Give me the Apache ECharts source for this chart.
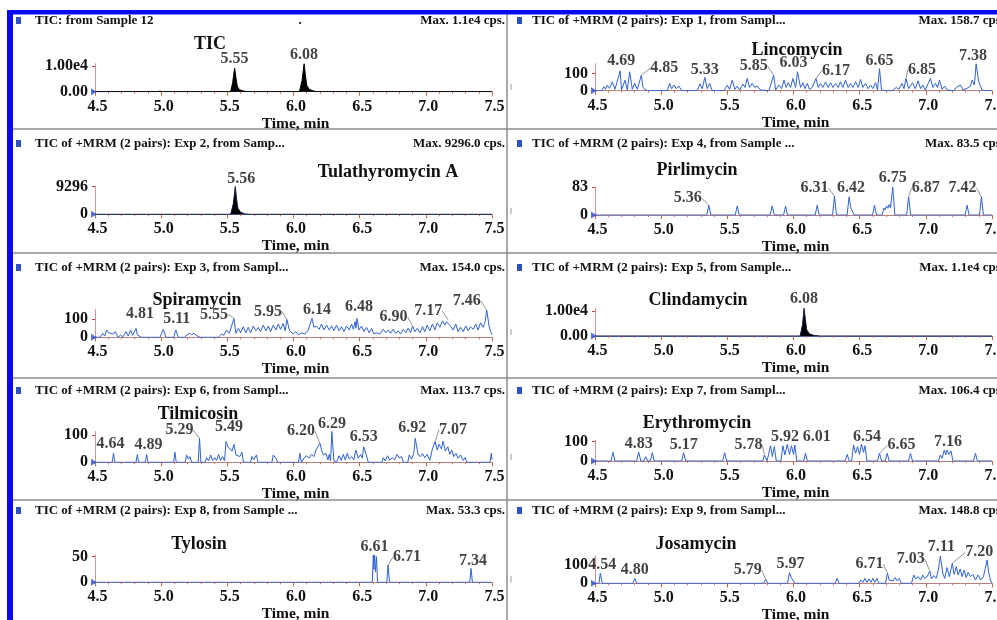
<!DOCTYPE html>
<html><head><meta charset="utf-8">
<script src="https://cdn.jsdelivr.net/npm/echarts@6/dist/echarts.min.js"></script>
<style>html,body{margin:0;padding:0;background:#fff}#c{width:997px;height:620px}</style>
</head><body><div id="c"></div>
<script>
const FONT = '"Liberation Serif","Times New Roman",serif';

// ---------- DATA: chromatogram traces [time(min), intensity(cps)] ----------
const ticTrace = [[4.5,0],[4.97,0],[4.99,200],[5.01,0],[5.525,0],[5.54,3500],[5.555,9300],[5.565,5500],[5.575,2200],[5.59,800],[5.62,300],[5.65,0],[6.045,0],[6.065,4500],[6.08,11000],[6.09,6500],[6.10,2500],[6.12,900],[6.15,300],[6.18,0],[7.5,0]];
const tulaTrace = [[4.5,0],[4.98,0],[4.995,150],[5.01,0],[5.525,0],[5.545,3500],[5.56,9296],[5.57,5000],[5.58,2000],[5.60,700],[5.63,200],[5.66,0],[7.5,0]];
const spiraTrace = [[4.5,0],[4.538,0],[4.558,22],[4.573,7],[4.588,40],[4.603,25],[4.618,36],[4.638,18],[4.654,31],[4.674,0],[4.694,13],[4.709,0],[4.734,31],[4.752,7],[4.769,40],[4.784,11],[4.81,49],[4.82,13],[4.835,22],[4.852,0],[4.991,0],[5.016,44],[5.036,0],[5.095,0],[5.11,40],[5.13,0],[5.175,0],[5.19,11],[5.212,22],[5.23,15],[5.248,22],[5.273,7],[5.293,0],[5.432,0],[5.457,18],[5.474,11],[5.494,40],[5.515,22],[5.55,104],[5.565,22],[5.583,49],[5.60,25],[5.62,58],[5.64,25],[5.658,55],[5.676,25],[5.696,62],[5.716,36],[5.734,55],[5.751,31],[5.771,67],[5.792,36],[5.81,62],[5.827,31],[5.847,67],[5.867,40],[5.885,73],[5.902,44],[5.922,76],[5.937,36],[5.95,98],[5.97,36],[5.998,18],[6.018,31],[6.038,13],[6.061,25],[6.086,18],[6.111,40],[6.14,104],[6.154,55],[6.174,62],[6.194,44],[6.212,73],[6.23,40],[6.25,67],[6.27,40],[6.288,62],[6.305,36],[6.325,67],[6.345,36],[6.363,58],[6.381,31],[6.401,62],[6.421,40],[6.439,73],[6.452,44],[6.466,86],[6.472,50],[6.48,104],[6.495,40],[6.514,62],[6.532,31],[6.552,55],[6.572,25],[6.59,49],[6.607,18],[6.627,25],[6.653,18],[6.678,44],[6.698,25],[6.716,40],[6.733,22],[6.753,44],[6.773,22],[6.791,36],[6.809,18],[6.829,44],[6.849,25],[6.866,50],[6.884,25],[6.90,62],[6.917,31],[6.934,49],[6.955,25],[6.975,58],[6.992,31],[7.01,67],[7.03,36],[7.05,73],[7.068,40],[7.086,80],[7.106,55],[7.126,91],[7.143,67],[7.156,86],[7.17,95],[7.186,62],[7.206,40],[7.226,73],[7.244,31],[7.262,55],[7.282,31],[7.302,62],[7.32,36],[7.337,58],[7.357,44],[7.378,73],[7.395,40],[7.413,80],[7.433,55],[7.448,86],[7.46,150],[7.478,62],[7.49,31],[7.5,15]];
const tilmiTrace = [[4.5,0],[4.63,0],[4.64,33],[4.65,0],[4.81,0],[4.82,29],[4.83,0],[4.88,0],[4.89,29],[4.90,0],[5.094,0],[5.104,37],[5.114,0],[5.182,0],[5.192,27],[5.205,12],[5.218,21],[5.23,0],[5.28,0],[5.29,88],[5.30,0],[5.333,0],[5.343,17],[5.358,5],[5.374,27],[5.389,7],[5.406,17],[5.419,7],[5.434,29],[5.449,7],[5.464,21],[5.479,5],[5.49,76],[5.505,57],[5.515,63],[5.535,41],[5.55,66],[5.565,27],[5.58,33],[5.595,21],[5.61,37],[5.622,0],[5.676,0],[5.686,21],[5.70,9],[5.72,27],[5.732,0],[5.837,0],[5.847,27],[5.867,15],[5.879,0],[6.038,0],[6.048,33],[6.06,0],[6.081,17],[6.099,24],[6.116,15],[6.136,29],[6.154,21],[6.17,45],[6.20,70],[6.212,45],[6.225,27],[6.245,33],[6.26,9],[6.27,29],[6.28,5],[6.29,113],[6.305,5],[6.325,0],[6.345,24],[6.36,7],[6.376,29],[6.391,9],[6.406,33],[6.421,12],[6.439,21],[6.456,9],[6.471,45],[6.489,15],[6.507,29],[6.52,15],[6.53,57],[6.55,27],[6.565,0],[6.668,0],[6.678,17],[6.693,5],[6.71,24],[6.728,9],[6.748,17],[6.763,9],[6.783,29],[6.799,15],[6.816,21],[6.83,0],[6.864,0],[6.874,27],[6.892,12],[6.909,33],[6.92,88],[6.942,27],[6.96,21],[6.975,32],[6.992,17],[7.01,29],[7.03,7],[7.05,49],[7.07,76],[7.086,45],[7.10,66],[7.118,49],[7.13,78],[7.148,41],[7.166,57],[7.181,29],[7.196,45],[7.211,21],[7.227,33],[7.244,15],[7.262,27],[7.282,7],[7.297,17],[7.31,0],[7.485,0],[7.495,33],[7.5,10]];
const tyloTrace = [[4.5,0],[6.595,0],[6.603,53],[6.608,25],[6.613,53],[6.62,20],[6.627,50],[6.635,0],[6.705,0],[6.715,34],[6.725,0],[7.332,0],[7.342,27],[7.352,0],[7.5,0]];
const lincoTrace = [[4.5,0],[4.55,0],[4.568,23],[4.58,8],[4.593,33],[4.61,14],[4.631,52],[4.651,8],[4.69,116],[4.70,4],[4.727,62],[4.744,4],[4.762,111],[4.782,8],[4.80,43],[4.82,8],[4.85,91],[4.862,19],[4.878,8],[4.895,0],[5.046,0],[5.064,43],[5.079,12],[5.097,33],[5.114,12],[5.134,27],[5.155,0],[5.273,0],[5.293,39],[5.31,12],[5.33,78],[5.348,12],[5.366,43],[5.386,0],[5.474,0],[5.50,33],[5.517,8],[5.537,62],[5.557,8],[5.575,27],[5.593,4],[5.618,39],[5.633,19],[5.65,72],[5.668,19],[5.688,43],[5.708,19],[5.726,27],[5.751,4],[5.814,0],[5.85,91],[5.865,4],[5.89,33],[5.91,12],[5.928,62],[5.945,19],[5.96,47],[5.978,19],[5.995,72],[6.016,19],[6.03,111],[6.053,19],[6.071,47],[6.086,12],[6.104,43],[6.121,8],[6.141,19],[6.17,72],[6.187,19],[6.204,43],[6.222,19],[6.242,52],[6.262,19],[6.28,47],[6.298,19],[6.318,43],[6.338,19],[6.355,52],[6.373,19],[6.393,62],[6.413,19],[6.431,43],[6.449,19],[6.469,52],[6.489,19],[6.507,66],[6.524,19],[6.544,43],[6.564,12],[6.582,33],[6.60,12],[6.62,47],[6.635,4],[6.65,130],[6.665,4],[6.69,0],[6.746,0],[6.776,19],[6.796,8],[6.82,43],[6.835,12],[6.85,72],[6.87,12],[6.90,47],[6.92,12],[6.942,58],[6.96,12],[6.977,33],[6.997,4],[7.018,43],[7.035,72],[7.053,19],[7.073,43],[7.088,19],[7.103,62],[7.123,8],[7.143,27],[7.163,4],[7.211,0],[7.229,19],[7.244,8],[7.262,33],[7.28,4],[7.312,14],[7.337,27],[7.35,62],[7.367,33],[7.38,158],[7.40,52],[7.425,4],[7.45,0],[7.5,0]];
const pirliTrace = [[4.5,0],[5.345,0],[5.36,29],[5.375,0],[5.56,0],[5.575,27],[5.59,0],[5.824,0],[5.839,27],[5.855,0],[5.925,0],[5.94,26],[5.955,0],[6.164,0],[6.179,29],[6.194,0],[6.295,0],[6.31,56],[6.325,0],[6.405,0],[6.42,54],[6.434,20],[6.444,24],[6.459,0],[6.597,0],[6.612,29],[6.627,0],[6.67,0],[6.683,21],[6.693,15],[6.703,27],[6.713,20],[6.723,31],[6.733,21],[6.75,83.5],[6.766,0],[6.855,0],[6.87,54],[6.885,0],[7.297,0],[7.312,29],[7.327,0],[7.405,0],[7.42,54],[7.435,0],[7.5,0]];
const clindaTrace = [[4.5,0],[6.05,0],[6.068,4500],[6.08,11000],[6.09,6500],[6.10,2500],[6.12,900],[6.15,300],[6.2,0],[7.5,0]];
const erythroTrace = [[4.5,0],[4.621,0],[4.636,45],[4.651,0],[4.815,0],[4.83,45],[4.847,0],[4.868,0],[4.883,22],[4.898,0],[4.918,0],[4.933,43],[4.948,0],[5.155,0],[5.17,43],[5.185,0],[5.465,0],[5.48,43],[5.495,0],[5.768,0],[5.78,31],[5.80,0],[5.812,0],[5.827,79],[5.84,22],[5.855,74],[5.87,0],[5.905,0],[5.92,79],[5.935,31],[5.953,86],[5.97,34],[5.985,79],[6.0,34],[6.01,83],[6.025,0],[6.078,0],[6.09,40],[6.105,0],[6.39,0],[6.406,34],[6.421,0],[6.439,0],[6.454,83],[6.469,40],[6.484,74],[6.499,34],[6.514,86],[6.529,45],[6.54,79],[6.555,0],[6.635,0],[6.65,40],[6.665,0],[6.693,0],[6.708,40],[6.723,0],[6.869,0],[6.884,40],[6.899,0],[7.095,0],[7.11,31],[7.123,14],[7.14,57],[7.15,31],[7.16,57],[7.175,34],[7.19,52],[7.205,0],[7.36,0],[7.375,40],[7.39,0],[7.5,0]];
const josaTrace = [[4.5,0],[4.53,0],[4.54,55],[4.555,0],[4.787,0],[4.80,27],[4.815,0],[5.775,0],[5.79,22],[5.805,0],[5.955,0],[5.97,58],[5.983,31],[5.995,36],[6.01,0],[6.315,0],[6.33,27],[6.345,0],[6.494,0],[6.509,18],[6.524,5],[6.54,27],[6.555,5],[6.57,24],[6.585,5],[6.60,27],[6.615,5],[6.63,27],[6.645,0],[6.695,0],[6.71,55],[6.723,18],[6.738,27],[6.753,13],[6.768,31],[6.784,13],[6.799,27],[6.814,0],[6.892,0],[6.909,45],[6.924,24],[6.942,36],[6.96,18],[6.977,45],[6.992,27],[7.01,36],[7.03,67],[7.043,24],[7.06,42],[7.078,27],[7.093,67],[7.11,148],[7.128,55],[7.143,27],[7.16,86],[7.178,36],[7.20,109],[7.214,49],[7.23,91],[7.244,45],[7.26,78],[7.274,36],[7.29,73],[7.305,31],[7.32,60],[7.337,36],[7.355,49],[7.375,18],[7.395,45],[7.415,18],[7.435,36],[7.45,82],[7.463,127],[7.476,55],[7.49,13],[7.5,0]];

// ---------- DATA: labelled peaks [text, time, intensity] ----------
const ticPeaks = [["5.55",5.555,9300],["6.08",6.08,11000]];
const tulaPeaks = [["5.56",5.56,9296]];
const spiraPeaks = [["4.81",4.81,49],["5.11",5.11,40],["5.55",5.55,104],["5.95",5.95,98],["6.14",6.14,104],["6.48",6.48,104],["6.90",6.90,62],["7.17",7.17,95],["7.46",7.46,150]];
const tilmiPeaks = [["4.64",4.64,33],["4.89",4.89,29],["5.29",5.29,88],["5.49",5.49,76],["6.20",6.20,70],["6.29",6.29,113],["6.53",6.53,57],["6.92",6.92,88],["7.07",7.07,76]];
const tyloPeaks = [["6.61",6.613,53],["6.71",6.715,34],["7.34",7.342,27]];
const lincoPeaks = [["4.69",4.69,116],["4.85",4.85,91],["5.33",5.33,78],["5.85",5.85,91],["6.03",6.03,111],["6.17",6.17,72],["6.65",6.65,130],["6.85",6.85,72],["7.38",7.38,158]];
const pirliPeaks = [["5.36",5.36,29],["6.31",6.31,56],["6.42",6.42,54],["6.75",6.75,83.5],["6.87",6.87,54],["7.42",7.42,54]];
const clindaPeaks = [["6.08",6.08,11000]];
const erythroPeaks = [["4.83",4.83,45],["5.17",5.17,43],["5.78",5.78,31],["5.92",5.92,79],["6.01",6.01,83],["6.54",6.54,79],["6.65",6.65,40],["7.16",7.16,57]];
const josaPeaks = [["4.54",4.54,55],["4.80",4.80,27],["5.79",5.79,22],["5.97",5.97,58],["6.71",6.71,55],["7.03",7.03,67],["7.11",7.11,148],["7.20",7.20,109]];

// ---------- TEXT ----------
const compoundNames = ["TIC","Tulathyromycin A","Spiramycin","Tilmicosin","Tylosin","Lincomycin","Pirlimycin","Clindamycin","Erythromycin","Josamycin"];
const headerTexts = ["TIC: from Sample 12","TIC of +MRM (2 pairs): Exp 2, from Samp...","TIC of +MRM (2 pairs): Exp 3, from Sampl...","TIC of +MRM (2 pairs): Exp 6, from Sampl...","TIC of +MRM (2 pairs): Exp 8, from Sample ...","TIC of +MRM (2 pairs): Exp 1, from Sampl...","TIC of +MRM (2 pairs): Exp 4, from Sample ...","TIC of +MRM (2 pairs): Exp 5, from Sample...","TIC of +MRM (2 pairs): Exp 7, from Sampl...","TIC of +MRM (2 pairs): Exp 9, from Sampl..."];
const maxTexts = ["Max. 1.1e4 cps.","Max. 9296.0 cps.","Max. 154.0 cps.","Max. 113.7 cps.","Max. 53.3 cps.","Max. 158.7 cps.","Max. 83.5 cps.","Max. 1.1e4 cps.","Max. 106.4 cps.","Max. 148.8 cps."];
const yMaxes = [11000,9296,154,113.7,53.3,158.7,83.5,11000,106.4,148.8];
const yTopValues = [10000,9296,100,100,50,100,83,10000,100,100];
const yTopLabels = ["1.00e4","9296","100","100","50","100","83","1.00e4","100","100"];
const yZeroLabels = ["0.00","0","0","0","0","0","0","0.00","0","0"];
const xAxisName = "Time, min";

const traces = [ticTrace,tulaTrace,spiraTrace,tilmiTrace,tyloTrace,lincoTrace,pirliTrace,clindaTrace,erythroTrace,josaTrace];
const peaks = [ticPeaks,tulaPeaks,spiraPeaks,tilmiPeaks,tyloPeaks,lincoPeaks,pirliPeaks,clindaPeaks,erythroPeaks,josaPeaks];

// ---------- LAYOUT (pixels) ----------
const labelOffsets = [
  [[0,-9,0],[0,-9,0]],
  [[6,-8,0]],
  [[4,-15,0],[1,-11,0],[-20,-4,1],[-19,-8,1],[5,-9,0],[2,-12,0],[-19,-9,1],[-20,-9,1],[-20,-9,1]],
  [[-3,-9,0],[2,-10,0],[-20,-8,1],[3,-15,0],[-19,-12,1],[0,-8,0],[0,-10,0],[-3,-10,0],[18,-12,1]],
  [[0,-8,0],[19,-8,1],[2,-8,0]],
  [[1,-10,0],[23,-7,1],[0,-8,0],[-20,-9,1],[-4,-9,0],[20,-8,1],[0,-8,0],[16,-9,1],[-3,-8,0]],
  [[-21,-7,1],[-20,-8,1],[2,-9,0],[0,-9,0],[17,-9,1],[-19,-9,1]],
  [[0,-9,0]],
  [[0,-8,0],[0,-8,0],[-16,-10,1],[2,-9,0],[22,-8,0],[2,-9,0],[22,-8,1],[1,-8,0]],
  [[2,-8,0],[0,-8,0],[-18,-9,1],[1,-9,0],[-18,-9,1],[-19,-12,1],[1,-9,0],[27,-11,1]]
];
const baselines = [91.7,214.3,337.3,462.3,582.3,90.7,215,336,461,583.3];
const heights = [28,27.8,28,31,27.3,27,28,27.7,20.6,27.3];
const headerY = [21,144,268,391,511];
const namePos = [[210,44],[388,172],[197,300],[198,414],[199,544],[797,50],[697,170],[698,300],[697,423],[696,544]];
const filled = [true,true,false,false,false,false,false,true,false,false];
const lineColors = ['#000','#141c40','#2f62d6','#2f62d6','#2f62d6','#2f62d6','#2f62d6','#141c40','#2f62d6','#2f62d6'];

const grids=[], xAxes=[], yAxes=[], series=[], graphics=[];
for (let i=0;i<10;i++){
  const col = i<5?0:1, row = i%5;
  grids.push({left: col? 595:95, width:397, top: baselines[i]-heights[i], height: heights[i], outerBoundsMode:'none', containLabel:false});
  xAxes.push({type:'value', gridIndex:i, min:4.5, max:7.5, interval:0.5,
    axisLine:{show:true, onZero:false, lineStyle:{color: filled[i] ? '#5060a0' : '#b88080', width:1}},
    axisTick:{show:true, length:4, lineStyle:{color:'#d06040'}},
    minorTick:{show:true, splitNumber:5, length:2, lineStyle:{color:'#e07050'}},
    splitLine:{show:false},
    axisLabel:{formatter:v=>v.toFixed(1), fontFamily:FONT, fontWeight:'bold', fontSize:16, color:'#111', margin:7, padding:[0,0,0,5]},
    name:xAxisName, nameLocation:'middle', nameGap:24, nameMoveOverlap:false,
    nameTextStyle:{fontFamily:FONT, fontWeight:'bold', fontSize:15.5, color:'#111', padding:[0,0,0,4]}
  });
  const top = yTopValues[i], zl = yZeroLabels[i], tl = yTopLabels[i];
  yAxes.push({type:'value', gridIndex:i, min:0, max:yMaxes[i],
    axisLine:{show:true, lineStyle:{color:'#e09090', width:1}},
    axisTick:{show:true, length:3, customValues:[0,top], lineStyle:{color:'#d04040'}},
    splitLine:{show:false},
    axisLabel:{customValues:[0,top], formatter:v=> (v===0? zl: tl), fontFamily:FONT, fontWeight:'bold', fontSize:16, color:'#111', margin:7}
  });
  series.push({type:'line', xAxisIndex:i, yAxisIndex:i, data:traces[i], symbol:'none', silent:true, animation:false, z:3,
    lineStyle:{width:1, color: lineColors[i]},
    areaStyle: filled[i] ? {color:'#000', opacity:1} : undefined});
  const offs = labelOffsets[i];
  series.push({type:'scatter', xAxisIndex:i, yAxisIndex:i, symbolSize:1, silent:true, animation:false, z:6,
    itemStyle:{color:'rgba(0,0,0,0)'},
    data: peaks[i].map((p,k)=>({value:[p[1],p[2]], name:p[0], labelLine:{show: !!offs[k][2]}})),
    label:{show:true, position:'inside', formatter:p=>p.name, fontFamily:FONT, fontWeight:'bold', fontSize:16, color:'#111'},
    labelLine:{lineStyle:{color:'#777', width:0.8}},
    labelLayout: (p)=>({dx: offs[p.dataIndex][0], dy: offs[p.dataIndex][1]})
  });
  series.push({type:'scatter', xAxisIndex:i, yAxisIndex:i, data:[[4.5,0]], symbol:'triangle', symbolRotate:-90,
    symbolSize:[7,6], symbolOffset:[-1,0], itemStyle:{color:'#2a55d8'}, silent:true, animation:false, z:7, clip:false});

  // header
  const hx = col? 532: 35, hy = headerY[row];
  graphics.push({type:'rect', shape:{x: col?517:16, y:hy-4, width:5, height:7}, style:{fill:'#2d52c8'}, silent:true});
  graphics.push({type:'text', x:hx, y:hy, silent:true, style:{text:headerTexts[i], font:'bold 13px '+FONT, fill:'#111', align:'left', verticalAlign:'middle'}});
  graphics.push({type:'text', x: col?1004:505, y:hy, silent:true, style:{text:maxTexts[i], font:'bold 13px '+FONT, fill:'#111', align:'right', verticalAlign:'middle'}});
  graphics.push({type:'text', x:namePos[i][0], y:namePos[i][1], silent:true, style:{text:compoundNames[i], font:'bold 18px '+FONT, fill:'#111', align:'center', verticalAlign:'middle'}});
  if (col) graphics.push({type:'line', shape:{x1:511,y1:baselines[i]-7,x2:511,y2:baselines[i]-1}, style:{stroke:'#999', lineWidth:1}, silent:true});
}
graphics.push({type:'text', x:300, y:21, silent:true, style:{text:'.', font:'bold 13px '+FONT, fill:'#111', align:'center', verticalAlign:'middle'}});
// separators
[129,253,378,500].forEach(y=>graphics.push({type:'line', shape:{x1:13,y1:y,x2:997,y2:y}, style:{stroke:'#8c8c8c', lineWidth:1.5}, silent:true}));
graphics.push({type:'line', shape:{x1:507,y1:14,x2:507,y2:620}, style:{stroke:'#8c8c8c', lineWidth:1.5}, silent:true});
// blue frame
graphics.push({type:'rect', shape:{x:7,y:10,width:990,height:4.5}, style:{fill:'#0a0af0'}, silent:true});
graphics.push({type:'rect', shape:{x:7,y:10,width:6,height:610}, style:{fill:'#0a0af0'}, silent:true});

const chart = echarts.init(document.getElementById('c'));
chart.setOption({animation:false, backgroundColor:'#fff', grid:grids, xAxis:xAxes, yAxis:yAxes, series:series, graphic:{elements:graphics}});
</script></body></html>
